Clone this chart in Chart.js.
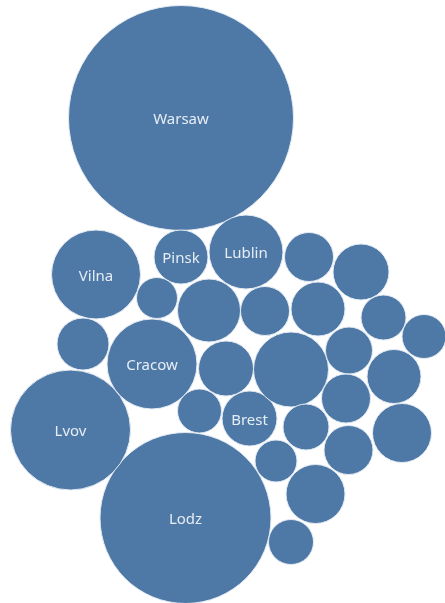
<!DOCTYPE html>
<html>
<head>
<meta charset="utf-8">
<script src="https://cdn.jsdelivr.net/npm/chart.js@4"></script>
<style>
  html, body { margin: 0; padding: 0; background: #fff; }
  #wrap { width: 445px; height: 603px; position: relative; }
</style>
</head>
<body>
<div id="wrap"><canvas id="canvas"></canvas></div>
<script>
// packed bubble layout
let names = ['Warsaw', 'Lodz', 'Lvov', 'Vilna', 'Cracow', 'Lublin', 'Pinsk', 'Brest',
  '', '', '', '', '', '', '', '', '', '', '', '', '', '', '', '', '', '', '', '', '', ''];
let xs = [181, 185.5, 70.5, 96, 152, 246, 181, 249.5,
  309, 361, 157, 209, 265, 318, 383.5, 424, 83, 226, 291, 349, 394, 346, 199.5, 306, 402, 348.5, 276, 315.5, 291];
let ys = [118, 518, 430, 274.5, 364, 252, 257, 418.5,
  257, 272, 298, 310.5, 311, 309, 317.5, 336.5, 344, 368.5, 369.5, 350.5, 376.5, 398.5, 411, 427, 433, 450, 461, 494, 542];
let sizes = [112.5, 85.5, 60, 44.5, 45, 37, 27, 27.5,
  24.5, 28, 20.5, 31.5, 24.5, 27, 22.5, 22, 26, 27.5, 37.5, 23.5, 27, 24.5, 22, 23, 29.5, 24.5, 21, 29.5, 22.5];

let points = [];
for (let i = 0; i < xs.length; i++) {
    points.push({ x: xs[i], y: ys[i], r: sizes[i] });
}

const labelPlugin = {
    id: 'bubbleLabels',
    afterDatasetsDraw(chart) {
        const ctx = chart.ctx;
        const meta = chart.getDatasetMeta(0);
        ctx.save();
        ctx.fillStyle = '#e6edf5';
        ctx.font = '15px "Noto Sans"';
        ctx.textAlign = 'center';
        ctx.textBaseline = 'middle';
        meta.data.forEach(function(el, i) {
            if (names[i]) ctx.fillText(names[i], el.x, el.y + 2);
        });
        ctx.restore();
    }
};

let options = {
    type: 'bubble',
    data: {
        datasets: [{
            data: points,
            backgroundColor: '#4e79a7',
            borderColor: '#e3eaf2',
            borderWidth: 1,
            clip: false
        }]
    },
    options: {
        responsive: true,
        maintainAspectRatio: false,
        animation: false,
        layout: { padding: 0, autoPadding: false },
        plugins: { legend: { display: false }, tooltip: { enabled: false } },
        scales: {
            x: { display: false, min: 0, max: 445 },
            y: { display: false, min: 0, max: 603, reverse: true }
        }
    },
    plugins: [labelPlugin]
};

let chart = new Chart(document.getElementById('canvas'), options);
</script>
</body>
</html>
